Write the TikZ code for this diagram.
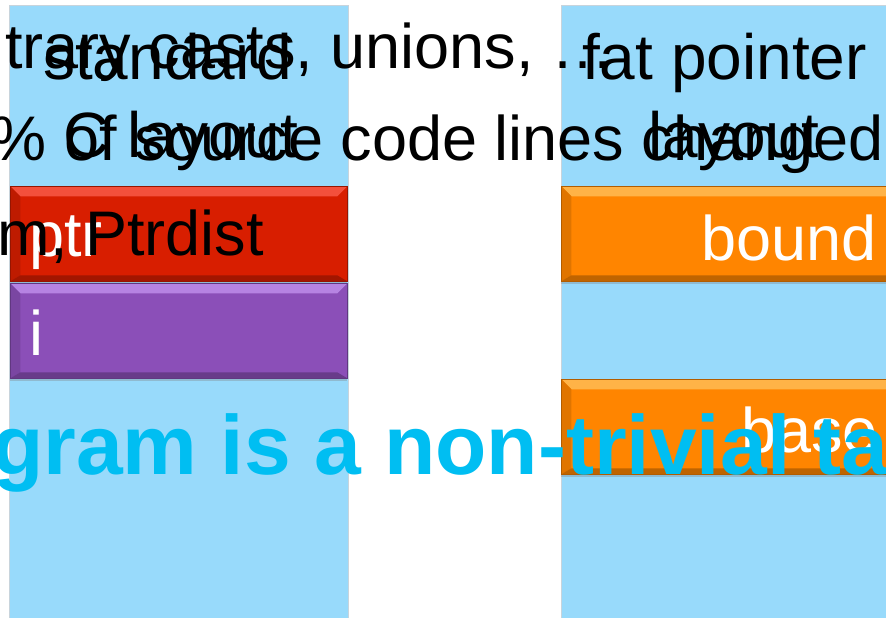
\documentclass[tikz,border=0pt]{standalone}
\usepackage{fontspec}
\setmainfont{Liberation Sans}
\usetikzlibrary{shadows}
\definecolor{colbg}{HTML}{98DAFB}
\definecolor{colline}{HTML}{C8D4DC}
\definecolor{boxred}{HTML}{D81E00}
\definecolor{bevred}{HTML}{F3503C}
\definecolor{boxpurple}{HTML}{8B4FB8}
\definecolor{bevpurple}{HTML}{B683E2}
\definecolor{boxorange}{HTML}{FF8500}
\definecolor{bevorange}{HTML}{FFB347}
\definecolor{titlecyan}{HTML}{00BEF2}
\tikzset{
  colbox/.style={fill=colbg, draw=colline, line width=0.6pt},
  bevelbox/.style n args={2}{rectangle, inner sep=0pt, anchor=north west,
    minimum height=95pt, fill=#1, draw=#1!70!black, line width=0.6pt,
    drop shadow={shadow xshift=0pt, shadow yshift=-3pt, opacity=0.35},
    path picture={
      \fill[#2] (path picture bounding box.north west) -- (path picture bounding box.north east)
        -- ([xshift=-10pt,yshift=-10pt]path picture bounding box.north east)
        -- ([xshift=10pt,yshift=-10pt]path picture bounding box.north west) -- cycle;
      \fill[#1!88!black] (path picture bounding box.north west) -- ([xshift=10pt,yshift=-10pt]path picture bounding box.north west)
        -- ([xshift=10pt,yshift=6pt]path picture bounding box.south west) -- (path picture bounding box.south west) -- cycle;
      \fill[#1!75!black] (path picture bounding box.south west) -- ([xshift=10pt,yshift=6pt]path picture bounding box.south west)
        -- ([xshift=-10pt,yshift=6pt]path picture bounding box.south east) -- (path picture bounding box.south east) -- cycle;
    }},
  boxlabel/.style={anchor=base west, inner sep=0pt, text=white, font=\fontsize{63}{63}\selectfont},
  headtext/.style={anchor=base west, inner sep=0pt, text=black, font=\fontsize{64}{64}\selectfont},
  blacktext/.style={inner sep=0pt, text=black, font=\fontsize{63}{63}\selectfont},
  titletext/.style={anchor=base west, inner sep=0pt, text=titlecyan, font=\fontsize{84}{84}\selectfont\bfseries}
}
\begin{document}
\begin{tikzpicture}[x=1pt, y=-1pt]
\useasboundingbox (0,0) rectangle (886,618);
\clip (0,0) rectangle (886,618);
\fill[white] (0,0) rectangle (886,618);
% layout columns
\path[colbox] (9,5) rectangle (348,630);
\path[colbox] (561,5) rectangle (910,630);
% fields
\node[bevelbox={boxred}{bevred}, minimum width=337pt] (ptrbox) at (10,186) {};
\node[bevelbox={boxpurple}{bevpurple}, minimum width=337pt] (ibox) at (10,283) {};
\node[bevelbox={boxorange}{bevorange}, minimum width=345pt] (boundbox) at (561,186) {};
\node[bevelbox={boxorange}{bevorange}, minimum width=345pt] (basebox) at (561,379) {};
\node[boxlabel] (ptrlbl) at (29,256) {ptr};
\node[boxlabel] (ilbl) at (29,355) {i};
\node[boxlabel] (boundlbl) at (701,260) {bound};
\node[boxlabel] (baselbl) at (741,452) {base};
% column headings
\node[headtext] (std1) at (43,80) {standard};
\node[headtext] (std2) at (63,157) {C layout};
\node[headtext] (fat1) at (582,80) {fat pointer};
\node[headtext] (fat2) at (648,157) {layout};
% slide text behind the diagram
\node[blacktext, anchor=base west] (bul1) at (5,69) {trary casts, unions, …};
\node[blacktext, anchor=base east] (bul2) at (884,160) {\% of source code lines changed};
\node[blacktext, anchor=base east] (bul3) at (264,255) {em, Ptrdist};
\node[titletext] (title) at (-8,474) {gram is a non-trivial ta};
\end{tikzpicture}
\end{document}
